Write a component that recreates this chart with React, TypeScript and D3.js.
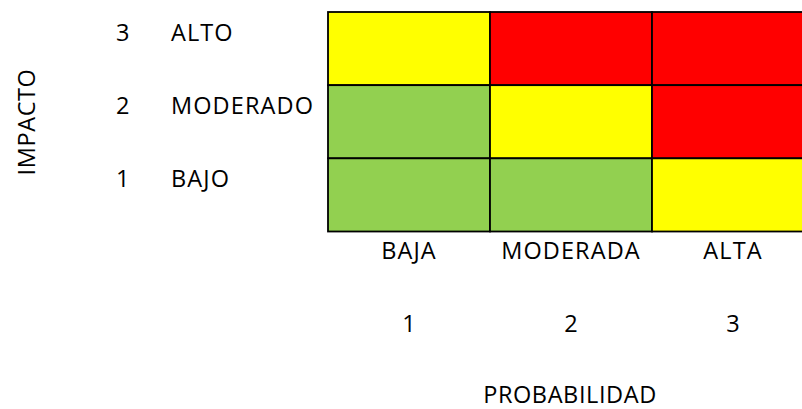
import React from "react";
import * as d3 from "d3";

const probability = [1, 2, 3];
const probabilityLabels = ["BAJA", "MODERADA", "ALTA"];
const impact = [3, 2, 1];
const impactLabels = ["ALTO", "MODERADO", "BAJO"];
// risk level per row (impact 3,2,1) and column (probability 1,2,3)
const rowHigh = ["medio", "alto", "alto"];
const rowMid = ["bajo", "medio", "alto"];
const rowLow = ["bajo", "bajo", "medio"];
const levels = ["bajo", "medio", "alto"];
const levelColors = ["#92D050", "#FFFF00", "#FF0000"];

const W = 802;
const H = 409;
const FONT = "'Open Sans', 'Noto Sans', sans-serif";

export default function App() {
  const x = d3.scaleBand<number>().domain(probability).range([328, 814]);
  const y = d3.scaleBand<number>().domain(impact).range([12, 231.5]);
  const color = d3.scaleOrdinal<string, string>().domain(levels).range(levelColors);
  const rows = [rowHigh, rowMid, rowLow];
  const fs = 23.5;
  const ls = 1.1;
  return (
    <svg
      width={W}
      height={H}
      style={{ position: "absolute", left: 0, top: 0, background: "#fff" }}
      fontFamily={FONT}
    >
      {rows.map((row, ri) =>
        row.map((lvl, ci) => (
          <rect
            key={`${ri}-${ci}`}
            x={x(probability[ci])}
            y={y(impact[ri])}
            width={x.bandwidth()}
            height={y.bandwidth()}
            fill={color(lvl)}
            stroke="#000"
            strokeWidth={1.8}
          />
        ))
      )}
      {impact.map((v, i) => {
        const cy = (y(v) as number) + y.bandwidth() / 2 - 8;
        return (
          <g key={v}>
            <text x={116} y={cy} fontSize={fs} fill="#000">
              {v}
            </text>
            <text x={171} y={cy} fontSize={fs} fill="#000" letterSpacing={ls}>
              {impactLabels[i]}
            </text>
          </g>
        );
      })}
      {probability.map((v, i) => {
        const cx = (x(v) as number) + x.bandwidth() / 2;
        return (
          <g key={v}>
            <text x={cx} y={259} fontSize={fs} textAnchor="middle" fill="#000" letterSpacing={ls}>
              {probabilityLabels[i]}
            </text>
            <text x={cx} y={332} fontSize={fs} textAnchor="middle" fill="#000">
              {v}
            </text>
          </g>
        );
      })}
      <text x={570} y={403} fontSize={fs} textAnchor="middle" fill="#000" letterSpacing={0.6}>
        PROBABILIDAD
      </text>
      <text
        transform="translate(35,122) rotate(-90)"
        fontSize={fs}
        textAnchor="middle"
        fill="#000"
        letterSpacing={0.6}
      >
        IMPACTO
      </text>
    </svg>
  );
}
